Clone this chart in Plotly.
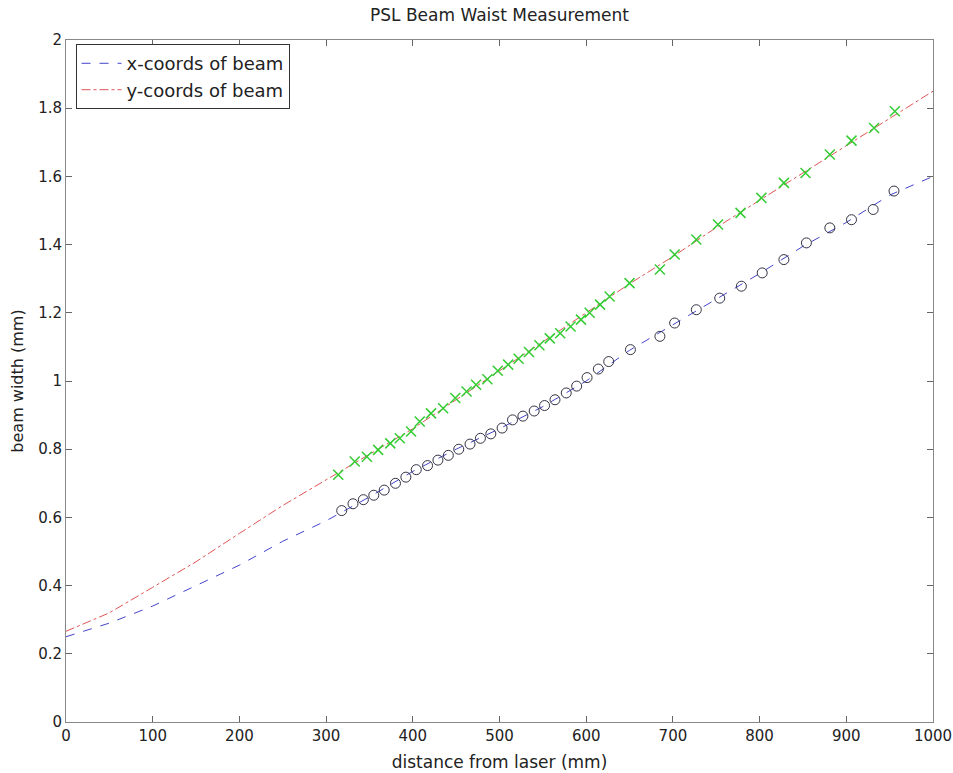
import plotly.graph_objects as go

# Fitted curves
curve_x = [0, 50, 100, 150, 200, 250, 300, 350, 400, 450, 500, 550, 600, 650, 700, 750, 800, 850, 900, 950, 1000]
fit_xcoords = [0.25, 0.29, 0.34, 0.40, 0.46, 0.53, 0.59, 0.66, 0.735, 0.80, 0.86, 0.925, 1.0, 1.09, 1.165, 1.24, 1.315, 1.395, 1.465, 1.545, 1.60]
fit_ycoords = [0.266, 0.32, 0.395, 0.47, 0.553, 0.635, 0.71, 0.785, 0.86, 0.945, 1.03, 1.115, 1.20, 1.285, 1.365, 1.45, 1.53, 1.61, 1.69, 1.77, 1.85]

# Measured points (x-coords of beam, circles)
meas_x_pos = [318, 331, 343, 355, 367, 380, 392, 404, 417, 429, 441, 453, 466, 478, 490, 503, 515, 527, 540, 552,
              564, 577, 589, 601, 614, 626, 651, 685, 702, 727, 754, 779, 803, 828, 854, 881, 906, 931, 955]
meas_x_val = [0.620, 0.640, 0.652, 0.665, 0.680, 0.700, 0.718, 0.740, 0.752, 0.768, 0.782, 0.800, 0.815, 0.832, 0.845,
              0.862, 0.886, 0.897, 0.912, 0.928, 0.945, 0.965, 0.985, 1.010, 1.035, 1.057, 1.092, 1.131, 1.170, 1.209,
              1.243, 1.278, 1.317, 1.356, 1.405, 1.449, 1.473, 1.503, 1.557]

# Measured points (y-coords of beam, crosses)
meas_y_pos = [314, 333, 347, 360, 374, 385, 398, 408, 421, 435, 449, 462, 473, 486, 498, 510, 522, 534, 546, 558,
              570, 582, 594, 604, 616, 627, 650, 685, 702, 727, 752, 778, 802, 828, 853, 881, 906, 932, 956]
meas_y_val = [0.725, 0.764, 0.778, 0.798, 0.817, 0.832, 0.852, 0.881, 0.905, 0.920, 0.950, 0.969, 0.989, 1.005, 1.030,
              1.048, 1.065, 1.085, 1.105, 1.125, 1.140, 1.160, 1.180, 1.200, 1.224, 1.248, 1.287, 1.327, 1.371, 1.415,
              1.459, 1.493, 1.537, 1.581, 1.610, 1.664, 1.705, 1.742, 1.791]

x_ticks = [0, 100, 200, 300, 400, 500, 600, 700, 800, 900, 1000]
y_ticks = [0, 0.2, 0.4, 0.6, 0.8, 1, 1.2, 1.4, 1.6, 1.8, 2]
y_tick_labels = ["0", "0.2", "0.4", "0.6", "0.8", "1", "1.2", "1.4", "1.6", "1.8", "2"]

FONT = "DejaVu Sans, Arial, sans-serif"
TXT = "#222222"

fig = go.Figure()
fig.add_trace(go.Scatter(x=curve_x, y=fit_xcoords, mode="lines", name="x-coords of beam",
                         line=dict(color="#4444cc", width=1, dash="dash")))
fig.add_trace(go.Scatter(x=curve_x, y=fit_ycoords, mode="lines", name="y-coords of beam",
                         line=dict(color="#e05555", width=1, dash="dashdot")))
fig.add_trace(go.Scatter(x=meas_x_pos, y=meas_x_val, mode="markers", showlegend=False,
                         marker=dict(symbol="circle-open", size=10, color="#333344", line=dict(width=1))))
fig.add_trace(go.Scatter(x=meas_y_pos, y=meas_y_val, mode="markers", showlegend=False,
                         marker=dict(symbol="x-thin-open", size=10, color="#33cc33", line=dict(width=1.5, color="#33cc33"))))

axis_common = dict(showgrid=False, zeroline=False, showline=True, linecolor="#888888", linewidth=1,
                   mirror="allticks", ticks="inside", ticklen=6, tickcolor="#666666", automargin=False,
                   tickfont=dict(family=FONT, size=15, color=TXT))

fig.update_layout(
    width=953, height=773,
    margin=dict(l=66, r=20, t=40, b=51),
    paper_bgcolor="white", plot_bgcolor="white",
    title=dict(text="PSL Beam Waist Measurement", x=(66 + 933) / 2 / 953, xanchor="center",
               y=1 - 15 / 773, yanchor="middle", font=dict(family=FONT, size=17, color=TXT)),
    xaxis=dict(range=[0, 1000], tickvals=x_ticks, ticktext=[str(v) for v in x_ticks],
               title=dict(text="distance from laser (mm)", standoff=12, font=dict(family=FONT, size=17, color=TXT)),
               **axis_common),
    yaxis=dict(range=[0, 2], tickvals=y_ticks, ticktext=y_tick_labels,
               title=dict(text="beam width (mm)", standoff=10, font=dict(family=FONT, size=16, color=TXT)),
               **axis_common),
    legend=dict(x=0.011, y=0.994, xanchor="left", yanchor="top", bgcolor="white",
                bordercolor="#333333", borderwidth=1, font=dict(family=FONT, size=18, color=TXT),
                tracegroupgap=0, itemwidth=40),
    showlegend=True,
)

fig.write_html("out.html")
